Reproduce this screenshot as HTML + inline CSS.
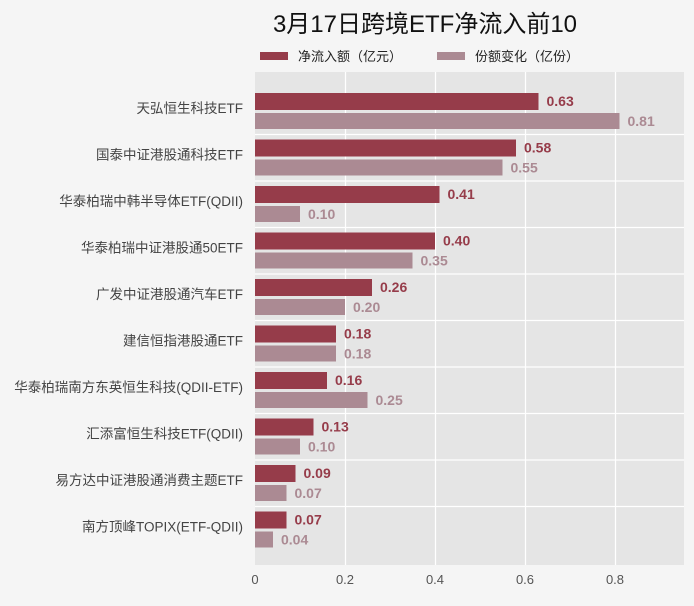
<!DOCTYPE html><html><head><meta charset="utf-8"><style>body{margin:0;background:#f5f5f5}svg{display:block;font-family:"Liberation Sans","Noto Sans CJK SC",sans-serif}</style></head><body>
<svg width="694" height="606" viewBox="0 0 694 606">
<rect width="694" height="606" fill="#f5f5f5"/>
<text x="425" y="32" font-size="24" text-anchor="middle" fill="#111">3月17日跨境ETF净流入前10</text>
<rect x="260" y="52" width="28" height="8" fill="#963c4a"/><text x="298" y="61" font-size="13" fill="#222">净流入额（亿元）</text>
<rect x="437" y="52" width="28" height="8" fill="#ab8a93"/><text x="475" y="61" font-size="13" fill="#222">份额变化（亿份）</text>
<rect x="255" y="72" width="429" height="493" fill="#e5e5e5"/>
<g stroke="#fff" stroke-width="1.2">
<line x1="345.5" y1="72" x2="345.5" y2="565"/><line x1="435.5" y1="72" x2="435.5" y2="565"/><line x1="525.5" y1="72" x2="525.5" y2="565"/><line x1="615.5" y1="72" x2="615.5" y2="565"/>
<line x1="255" y1="134.5" x2="684" y2="134.5"/><line x1="255" y1="181" x2="684" y2="181"/><line x1="255" y1="227.5" x2="684" y2="227.5"/><line x1="255" y1="274" x2="684" y2="274"/><line x1="255" y1="320.5" x2="684" y2="320.5"/><line x1="255" y1="367" x2="684" y2="367"/><line x1="255" y1="413.5" x2="684" y2="413.5"/><line x1="255" y1="460" x2="684" y2="460"/><line x1="255" y1="506.5" x2="684" y2="506.5"/>
</g>
<g font-size="13" fill="#555" text-anchor="middle"><text x="255" y="584">0</text><text x="345" y="584">0.2</text><text x="435" y="584">0.4</text><text x="525" y="584">0.6</text><text x="615" y="584">0.8</text></g>
<g id="rows" font-size="13.5"></g>
</svg>
<script>
var d=[["天弘恒生科技ETF",.63,.81],["国泰中证港股通科技ETF",.58,.55],["华泰柏瑞中韩半导体ETF(QDII)",.41,.10],["华泰柏瑞中证港股通50ETF",.40,.35],["广发中证港股通汽车ETF",.26,.20],["建信恒指港股通ETF",.18,.18],["华泰柏瑞南方东英恒生科技(QDII-ETF)",.16,.25],["汇添富恒生科技ETF(QDII)",.13,.10],["易方达中证港股通消费主题ETF",.09,.07],["南方顶峰TOPIX(ETF-QDII)",.07,.04]];
var g=document.getElementById('rows'),h='';
d.forEach(function(r,i){var y=93+i*46.5;var w1=r[1]*450,w2=r[2]*450;
h+='<text x="243" y="'+(y+20)+'" text-anchor="end" fill="#444">'+r[0]+'</text>';
h+='<rect x="255" y="'+y+'" width="'+w1+'" height="17" fill="#963c4a"/>';
h+='<rect x="255" y="'+(y+20)+'" width="'+w2+'" height="16" fill="#ab8a93"/>';
h+='<text x="'+(263+w1)+'" y="'+(y+13)+'" font-size="14" font-weight="bold" fill="#963c4a">'+r[1].toFixed(2)+'</text>';
h+='<text x="'+(263+w2)+'" y="'+(y+33)+'" font-size="14" font-weight="bold" fill="#ab8a93">'+r[2].toFixed(2)+'</text>';});
g.innerHTML=h;
</script>
</body></html>
